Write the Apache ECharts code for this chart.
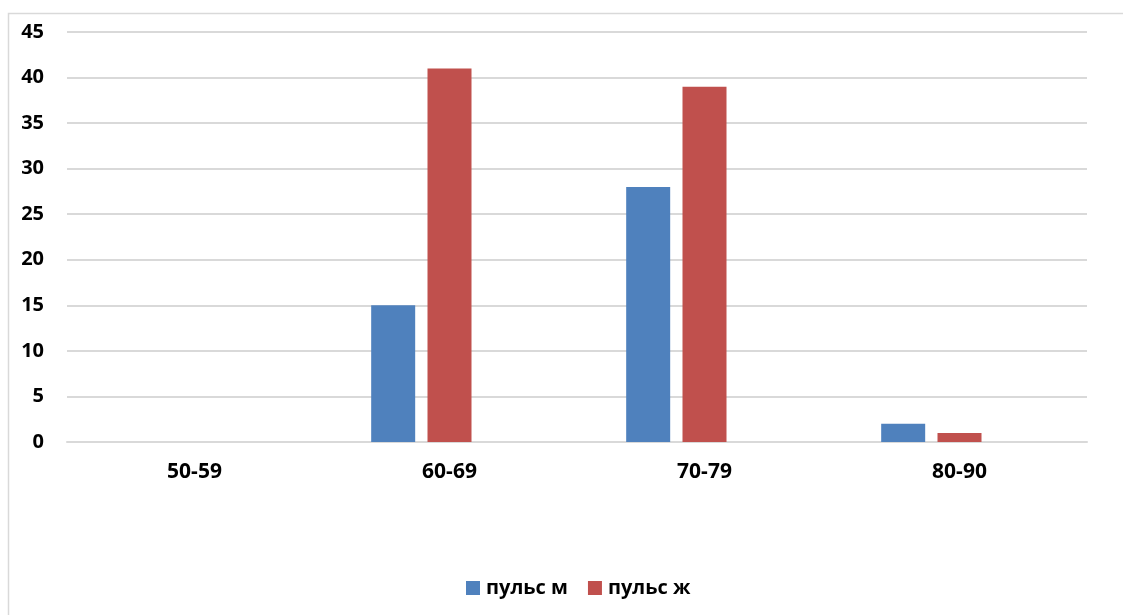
<!DOCTYPE html>
<html>
<head>
<meta charset="utf-8">
<style>
  html, body { margin: 0; padding: 0; background: #fff; }
  #chart { width: 1123px; height: 615px; }
</style>
<script src="https://cdn.jsdelivr.net/npm/echarts@6/dist/echarts.min.js"></script>
</head>
<body>
<div id="chart"></div>
<script>
// Pulse-rate groups and counts per group
const categories = ['50-59', '60-69', '70-79', '80-90'];
const pulseMale = [0, 15, 28, 2];
const pulseFemale = [0, 41, 39, 1];
const spareSeries = [null, null, null, null];
const yTicks = { min: 0, max: 45, interval: 5 };

const FONT = '"Open Sans", "Noto Sans", sans-serif';

const chart = echarts.init(document.getElementById('chart'), null, { renderer: 'canvas' });
chart.setOption({
  animation: false,
  backgroundColor: '#ffffff',
  graphic: [{
    type: 'rect',
    shape: { x: 8.5, y: 13.5, width: 1130, height: 640 },
    style: { fill: 'none', stroke: '#d9d9d9', lineWidth: 1.5 },
    silent: true
  }],
  grid: { left: 67, right: 36, top: 32, bottom: 173, containLabel: false },
  legend: {
    data: ['пульс м', 'пульс ж'],
    left: 461,
    top: 573,
    itemWidth: 14,
    itemHeight: 14,
    itemGap: 20,
    icon: 'rect',
    textStyle: { fontFamily: FONT, fontWeight: 'bold', fontSize: 20, color: '#000', padding: [0, 0, 0, 1] }
  },
  xAxis: {
    type: 'category',
    data: categories,
    axisLine: { show: true, lineStyle: { color: '#d9d9d9', width: 2 } },
    axisTick: { show: false },
    axisLabel: { fontFamily: FONT, fontWeight: 'bold', fontSize: 21, color: '#000', margin: 20 }
  },
  yAxis: {
    type: 'value',
    min: yTicks.min,
    max: yTicks.max,
    interval: yTicks.interval,
    axisLine: { show: false },
    axisTick: { show: false },
    splitLine: { lineStyle: { color: '#d9d9d9', width: 2 } },
    axisLabel: { fontFamily: FONT, fontWeight: 'bold', fontSize: 20, color: '#000', margin: 23 }
  },
  series: [
    {
      name: 'пульс м', type: 'bar', data: pulseMale,
      barWidth: 44, barGap: '28%',
      itemStyle: { color: '#4f81bd' }
    },
    {
      name: 'пульс ж', type: 'bar', data: pulseFemale,
      barWidth: 44, barGap: '28%',
      itemStyle: { color: '#c0504d' }
    },
    {
      name: 'spare', type: 'bar', data: spareSeries,
      barWidth: 44, barGap: '28%',
      itemStyle: { color: '#9bbb59' }
    }
  ]
});
</script>
</body>
</html>
